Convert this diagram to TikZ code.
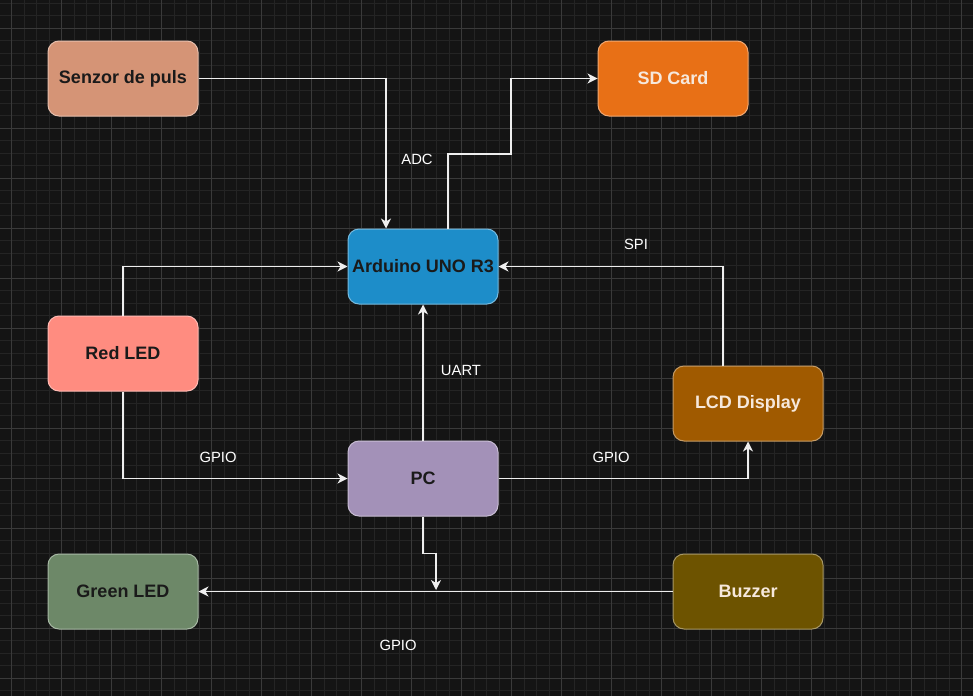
\documentclass[tikz,border=0pt]{standalone}
\usepackage{fontspec}
\setmainfont{Liberation Sans}
\usetikzlibrary{arrows.meta}
\definecolor{bg}{HTML}{141414}
\definecolor{gminor}{HTML}{242424}
\definecolor{gmajor}{HTML}{3A3A3A}
\definecolor{csen}{HTML}{D59476}
\definecolor{csd}{HTML}{E87016}
\definecolor{card}{HTML}{1D8DC9}
\definecolor{cred}{HTML}{FF8C80}
\definecolor{clcd}{HTML}{A05A00}
\definecolor{cpc}{HTML}{A391B8}
\definecolor{cgreen}{HTML}{6D8868}
\definecolor{cbuzz}{HTML}{6D5300}
\definecolor{darktxt}{HTML}{1A1A1A}
\definecolor{lighttxt}{HTML}{F6E8DC}
\definecolor{edge}{HTML}{EEEEEE}
\tikzset{
  box/.style={rectangle, rounded corners=11pt, minimum width=150pt, minimum height=75pt,
    line width=1pt, inner sep=0pt,
    font=\bfseries\fontsize{18}{21}\selectfont},
  bx/.style 2 args={box, fill=#1, draw=#1!60!white, text=#2},
  arr/.style={draw=edge, line width=1.3pt, -{Stealth[length=10pt,width=10pt,inset=3pt]}},
  lbl/.style={text=white, font=\fontsize{14.8}{17}\selectfont, inner sep=0pt},
  gmin/.style={draw=gminor, line width=0.8pt},
  gmaj/.style={draw=gmajor, line width=0.9pt}
}
\begin{document}
\begin{tikzpicture}[x=1pt,y=-1pt]
\fill[bg] (0,0) rectangle (973,696);
\useasboundingbox (0,0) rectangle (973,696);
% grid
\foreach \i in {0,...,79} {
  \pgfmathsetmacro{\xx}{-0.8+12.5*\i}
  \draw[gmin] (\xx,0) -- (\xx,696);
}
\foreach \i in {0,...,56} {
  \pgfmathsetmacro{\yy}{3.3+12.5*\i}
  \draw[gmin] (0,\yy) -- (973,\yy);
}
\foreach \i in {0,...,19} {
  \pgfmathsetmacro{\xx}{11.7+50*\i}
  \draw[gmaj] (\xx,0) -- (\xx,696);
}
\foreach \i in {0,...,14} {
  \pgfmathsetmacro{\yy}{28.3+50*\i}
  \draw[gmaj] (0,\yy) -- (973,\yy);
}
% nodes
\node[bx={csen}{darktxt}] (sen) at (123,78.5) {Senzor de puls};
\node[bx={csd}{lighttxt}] (sd) at (673,78.5) {SD Card};
\node[bx={card}{darktxt}] (ard) at (423,266.5) {Arduino UNO R3};
\node[bx={cred}{darktxt}] (red) at (123,353.5) {Red LED};
\node[bx={clcd}{lighttxt}] (lcd) at (748,403.5) {LCD Display};
\node[bx={cpc}{darktxt}] (pc) at (423,478.5) {PC};
\node[bx={cgreen}{darktxt}] (green) at (123,591.5) {Green LED};
\node[bx={cbuzz}{lighttxt}] (buzz) at (748,591.5) {Buzzer};
% helper coordinates
\coordinate (sdbend) at (511,154);
\coordinate (junc) at (436,590);
% connectors
\draw[arr] (sen.east) -| ([xshift=-37pt]ard.north);
\draw[arr] ([xshift=25pt]ard.north) |- (sdbend) |- (sd.west);
\draw[arr] (red.north) |- (ard.west);
\draw[arr] (red.south) |- (pc.west);
\draw[arr] (pc.north) -- (ard.south);
\draw[arr] ([xshift=-25pt]lcd.north) |- (ard.east);
\draw[arr] (pc.east) -| (lcd.south);
\draw[arr] (buzz.west) -- (green.east);
\draw[arr] (pc.south) -- ++(0,37) -| (junc);
% labels
\node[lbl] (ladc) at (417,159.5) {ADC};
\node[lbl] (lspi) at (636,244.5) {SPI};
\node[lbl] (luart) at (461,370) {UART};
\node[lbl] (lg1) at (218,457.5) {GPIO};
\node[lbl] (lg2) at (611,457.5) {GPIO};
\node[lbl] (lg3) at (398,645) {GPIO};
\end{tikzpicture}
\end{document}
